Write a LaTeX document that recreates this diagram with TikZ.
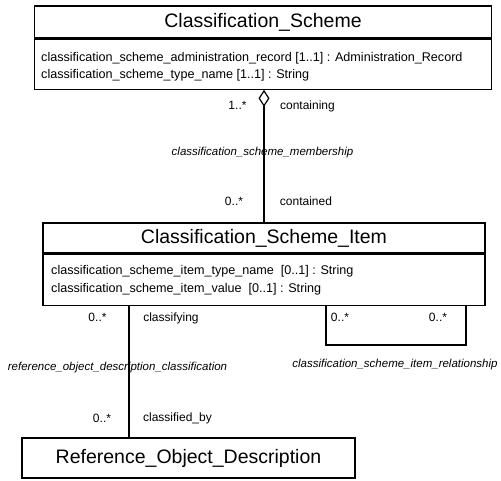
\documentclass[tikz,border=0pt]{standalone}
\usepackage{fontspec}
\setmainfont{Liberation Sans}
\usetikzlibrary{arrows.meta}
\tikzset{
  title/.style={draw, line width=1.2pt, inner sep=0pt, font=\fontsize{19.5}{22}\selectfont},
  attrbox/.style={draw, line width=1.2pt, inner sep=0pt},
  attr/.style={anchor=west, inner sep=0pt, font=\fontsize{12.6}{15}\selectfont},
  lbl/.style={inner sep=0pt, font=\fontsize{12}{14}\selectfont},
  assoc/.style={inner sep=0pt, font=\fontsize{11.5}{14}\selectfont\itshape},
  conn/.style={line width=1.2pt},
}
\begin{document}
\begin{tikzpicture}[x=1pt,y=-1pt]
\useasboundingbox (0,0) rectangle (501,481);
% Classification_Scheme
\node[title, minimum width=457, minimum height=32] (cs) at (263,22) {Classification\_Scheme};
\node[attrbox, minimum width=457, minimum height=50, anchor=north] (csa) at (cs.south) {};
\node[attr] (csa1) at (41,58) {classification\_scheme\_administration\_record [1..1] : Administration\_Record};
\node[attr] (csa2) at (41,75) {classification\_scheme\_type\_name [1..1] : String};
% Classification_Scheme_Item
\node[title, minimum width=442, minimum height=30] (csi) at (264,238) {Classification\_Scheme\_Item};
\node[attrbox, minimum width=442, minimum height=51, anchor=north] (csia) at (csi.south) {};
\node[attr] (csia1) at (51,271) {classification\_scheme\_item\_type\_name\ \ [0..1] : String};
\node[attr] (csia2) at (51,289) {classification\_scheme\_item\_value\ \ [0..1] : String};
% Reference_Object_Description
\node[title, minimum width=333, minimum height=40] (rod) at (188.5,458) {Reference\_Object\_Description};
% connectors
\coordinate (mx) at (264,0);
\coordinate (lx) at (129,0);
\coordinate (la) at (326,0);
\coordinate (lb) at (466,0);
\coordinate (lbot) at (0,345);
\draw[conn, {Diamond[open, length=17pt, width=11pt, line width=1.2pt]}-] (csa.south -| mx) -- (csi.north -| mx);
\draw[conn] (csia.south -| lx) -- (rod.north -| lx);
\draw[conn] (csia.south -| la) -- (la |- lbot) -- (lb |- lbot) -- (csia.south -| lb);
% labels
\node[lbl] (l1) at (237.5,105) {1..*};
\node[lbl] (l2) at (307.5,106) {containing};
\node[assoc] (l3) at (262.5,153) {classification\_scheme\_membership};
\node[lbl] (l4) at (234,201) {0..*};
\node[lbl] (l5) at (306,201) {contained};
\node[lbl] (l6) at (97.5,317) {0..*};
\node[lbl] (l7) at (171,318) {classifying};
\node[lbl] (l8) at (340,317) {0..*};
\node[lbl] (l9) at (438,317) {0..*};
\node[assoc] (l10) at (117.5,368) {reference\_object\_description\_classification};
\node[assoc] (l11) at (395,365) {classification\_scheme\_item\_relationship};
\node[lbl] (l12) at (102,418) {0..*};
\node[lbl] (l13) at (177.5,418) {classified\_by};
\end{tikzpicture}
\end{document}
